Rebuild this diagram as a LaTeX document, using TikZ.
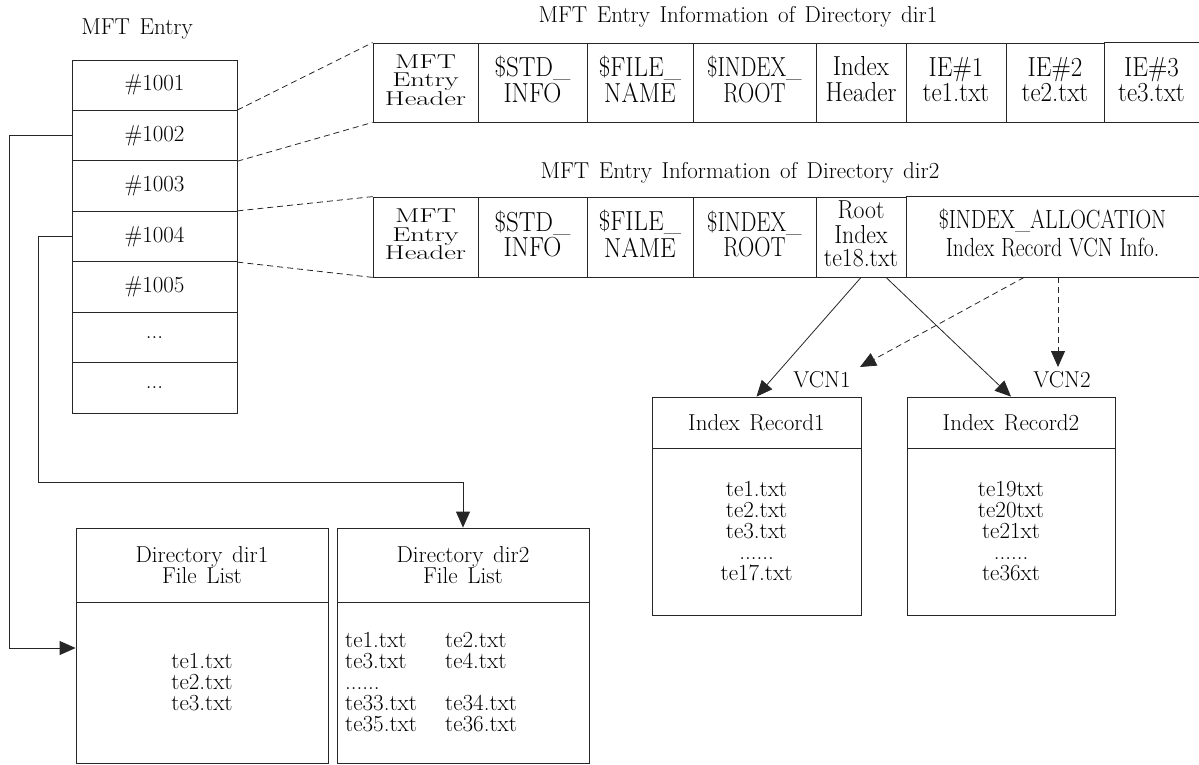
\documentclass[tikz,border=0pt]{standalone}
\usepackage{graphicx}
\usetikzlibrary{arrows.meta,calc}
\newcommand{\cz}[3]{\scalebox{#1}[#2]{\begin{tabular}{@{}c@{}}#3\end{tabular}}}
\newcommand{\tfont}{\fontsize{23}{21}\selectfont\spaceskip=0.42em\relax}
\newcommand{\cfont}{\fontsize{25}{20}\selectfont}
\newcommand{\afont}{\fontsize{25}{27}\selectfont}
\tikzset{
  txt/.style={font=\tfont, inner sep=0pt, text=black},
  cellfont/.style={font=\cfont},
  box/.style={draw=black!85, line width=0.8pt, inner sep=0pt, txt},
  sz/.style 2 args={minimum width=#1, minimum height=#2},
  ln/.style={draw=black!85, line width=0.8pt},
  dsh/.style={ln, dash pattern=on 6pt off 4pt},
  arr/.style={-{Triangle[length=16pt,width=14pt]}},
}
\begin{document}
\begin{tikzpicture}[x=1pt,y=-1pt]
\useasboundingbox (0,0) rectangle (1199,764);

% MFT entry column
\node[txt] (lbl) at (137,29) {MFT Entry};
\node[box, sz={165pt}{50.43pt}] (m1) at (154.5,85.2) {\#1001};
\node[box, sz={165pt}{50.43pt}] (m2) at (154.5,135.6) {\#1002};
\node[box, sz={165pt}{50.43pt}] (m3) at (154.5,186.1) {\#1003};
\node[box, sz={165pt}{50.43pt}] (m4) at (154.5,236.5) {\#1004};
\node[box, sz={165pt}{50.43pt}] (m5) at (154.5,286.9) {\#1005};
\node[box, sz={165pt}{50.43pt}] (m6) at (154.5,337.4) {...};
\node[box, sz={165pt}{50.43pt}] (m7) at (154.5,387.8) {...};

% titles
\node[txt] (t1) at (738,17) {MFT Entry Information of Directory dir1};
\node[txt] (t2) at (740,173) {MFT Entry Information of Directory dir2};

% row dir1
\node[box, cellfont, sz={105pt}{79pt}] (d1a) at (425.5,82.5) {\cz{1.15}{0.8}{MFT\\Entry\\Header}};
\node[box, cellfont, sz={109pt}{79pt}] (d1b) at (532.5,82.5) {\cz{1}{1.1}{\$STD\_\\INFO}};
\node[box, cellfont, sz={106pt}{79pt}] (d1c) at (640,82.5) {\cz{1}{1.1}{\$FILE\_\\NAME}};
\node[box, cellfont, sz={123pt}{79pt}] (d1d) at (754.5,82.5) {\cz{0.9}{1.1}{\$INDEX\_\\ROOT}};
\node[box, cellfont, sz={90pt}{79pt}] (d1e) at (861,82.5) {\cz{1}{1.1}{Index\\Header}};
\node[box, cellfont, sz={100pt}{79pt}] (d1f) at (956,82.5) {\cz{1}{1.1}{IE\#1\\te1.txt}};
\node[box, cellfont, sz={98pt}{79pt}] (d1g) at (1055,82.5) {\cz{1}{1.1}{IE\#2\\te2.txt}};
\node[box, draw=none, cellfont, sz={95pt}{79pt}] (d1h) at (1151.5,82.5) {\cz{1}{1.1}{IE\#3\\te3.txt}};
\draw[ln] (d1h.north west) -- (d1h.north east) (d1h.south west) -- (d1h.south east);

% row dir2
\node[box, cellfont, sz={105pt}{80pt}] (e1) at (425.5,237) {\cz{1.15}{0.8}{MFT\\Entry\\Header}};
\node[box, cellfont, sz={109pt}{80pt}] (e2) at (532.5,237) {\cz{1}{1.1}{\$STD\_\\INFO}};
\node[box, cellfont, sz={106pt}{80pt}] (e3) at (640,237) {\cz{1}{1.1}{\$FILE\_\\NAME}};
\node[box, cellfont, sz={123pt}{80pt}] (e4) at (754.5,237) {\cz{0.9}{1.1}{\$INDEX\_\\ROOT}};
\node[box, cellfont, sz={90pt}{80pt}] (e5) at (861,237) {\cz{0.95}{1.04}{Root\\Index\\te18.txt}};
\node[box, draw=none, font=\afont, sz={293pt}{80pt}] (e6) at (1052.5,237) {\cz{0.87}{1.05}{\$INDEX\_ALLOCATION\\Index Record VCN Info.}};
\draw[ln] (e6.north west) -- (e6.north east) (e6.south west) -- (e6.south east);

% dashed expansion lines
\draw[dsh] (m2.north east) -- (d1a.north west);
\draw[dsh] (m2.south east) -- (d1a.south west);
\draw[dsh] (m4.north east) -- (e1.north west);
\draw[dsh] (m4.south east) -- (e1.south west);

% index records
\node[box, sz={209pt}{51pt}] (r1h) at (756.5,422.5) {Index Record1};
\node[box, sz={209pt}{167pt}, align=center] (r1b) at (756.5,531.5) {te1.txt\\te2.txt\\te3.txt\\......\\te17.txt};
\node[box, sz={208pt}{51pt}] (r2h) at (1011,422.5) {Index Record2};
\node[box, sz={208pt}{167pt}, align=center] (r2b) at (1011,531.5) {te19txt\\te20txt\\te21xt\\......\\te36xt};

\node[txt] (vcn1) at (822,380) {VCN1};
\node[txt] (vcn2) at (1062,380) {VCN2};
\coordinate (v1) at (860,367);
\coordinate (v2) at (1058,367);

\draw[ln, arr] (e5.south) -- (r1h.north);
\draw[ln, arr] ($(e5.south)+(25,0)$) -- (r2h.north);
\draw[dsh, arr] ($(e6.south)+(-28.5,0)$) -- (v1);
\draw[dsh, arr] ($(e6.south)+(5.5,0)$) -- (v2);

% directory file lists
\node[box, sz={252pt}{74pt}, align=center] (f1h) at (202,565) {Directory dir1\\File List};
\node[box, sz={252pt}{161pt}, align=center] (f1b) at (202,682.5) {te1.txt\\te2.txt\\te3.txt};
\node[box, sz={252pt}{74pt}, align=center] (f2h) at (463,565) {Directory dir2\\File List};
\node[box, sz={252pt}{161pt}] (f2b) at (463,682.5) {};
\node[txt, anchor=west, align=left] (f2t) at (345,682.5) {\makebox[100pt][l]{te1.txt}te2.txt\\\makebox[100pt][l]{te3.txt}te4.txt\\......\\\makebox[100pt][l]{te33.txt}te34.txt\\\makebox[100pt][l]{te35.txt}te36.txt};

% connectors from MFT entries to file lists
\draw[ln, arr] (m2.west) -- ++(-62,0) |- ([yshift=34.5pt]f1b.west);
\draw[ln, arr] (m4.west) -- ++(-33,0) -- ++(0,246) -| (f2h.north);
\end{tikzpicture}
\end{document}
